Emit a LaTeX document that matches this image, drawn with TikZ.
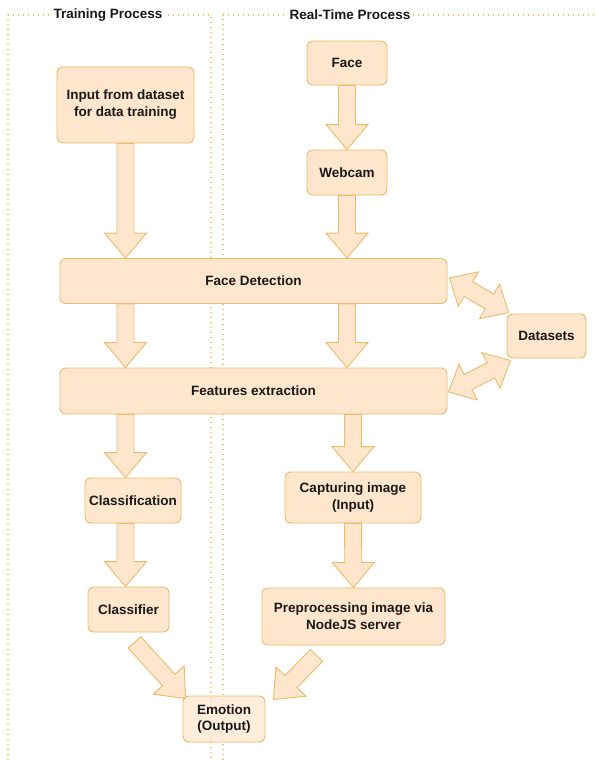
\documentclass[tikz,border=0pt]{standalone}
\usepackage{fontspec}
\setmainfont{Liberation Sans}
\usepackage{tikz}
\usetikzlibrary{calc}

\definecolor{boxfill}{HTML}{FFE6CC}
\definecolor{boxline}{HTML}{EBBA6A}
\definecolor{lanecol}{HTML}{F0C060}

\tikzset{
  box/.style={draw=boxline, fill=boxfill, rounded corners=6pt, line width=0.9pt, align=center,
    font=\bfseries\fontsize{13.5}{17}\selectfont, text=black!90, inner sep=0pt},
  fat/.style={draw=boxline, fill=boxfill, line width=0.9pt, line join=miter},
  lane/.style={draw=lanecol, line width=1.3pt, dash pattern=on 1.3pt off 3.7pt},
  lanetitle/.style={fill=white, font=\bfseries\fontsize{13.5}{15}\selectfont, text=black!90, inner sep=2pt}
}

% block arrow, one head
\newcommand{\fatarrow}[2]{%
  \draw[fat] let \p1=(#1), \p2=(#2), \n1={atan2(\y2-\y1,\x2-\x1)}, \n2={veclen(\x2-\x1,\y2-\y1)} in
    [shift={(\p1)}, rotate=\n1] (0pt,-8.5pt) -- ({\n2-25pt},-8.5pt) -- ({\n2-25pt},-21pt) -- ({\n2+0pt},0pt)
    -- ({\n2-25pt},21pt) -- ({\n2-25pt},8.5pt) -- (0pt,8.5pt) -- cycle;}
% block arrow, two heads
\newcommand{\fatdarrow}[2]{%
  \draw[fat] let \p1=(#1), \p2=(#2), \n1={atan2(\y2-\y1,\x2-\x1)}, \n2={veclen(\x2-\x1,\y2-\y1)} in
    [shift={(\p1)}, rotate=\n1] (0pt,0pt) -- (22pt,20pt) -- (22pt,8.5pt) -- ({\n2-22pt},8.5pt) -- ({\n2-22pt},20pt)
    -- ({\n2+0pt},0pt) -- ({\n2-22pt},-20pt) -- ({\n2-22pt},-8.5pt) -- (22pt,-8.5pt) -- (22pt,-20pt) -- cycle;}

\begin{document}
\begin{tikzpicture}[x=1pt,y=-1pt]
  \useasboundingbox (0,0) rectangle (595,760);

  % lanes
  \draw[lane] (8,760) -- (8,15) -- (211,15) -- (211,760);
  \draw[lane] (223,760) -- (223,15) -- (600,15);
  \node[lanetitle] (train) at (108,15) {Training Process};
  \node[lanetitle] (real) at (350,15) {Real-Time Process};

  % boxes
  \node[box, minimum width=137, minimum height=76] (inp) at (125.5,105) {Input from dataset\\for data training};
  \node[box, minimum width=80, minimum height=44] (face) at (347,63) {Face};
  \node[box, minimum width=80, minimum height=45] (web) at (347,172.5) {Webcam};
  \node[box, minimum width=387, minimum height=45] (fd) at (253.5,281) {Face Detection};
  \node[box, minimum width=79, minimum height=44] (ds) at (546.5,336) {Datasets};
  \node[box, minimum width=387, minimum height=46] (fe) at (253.5,391) {Features extraction};
  \node[box, minimum width=96, minimum height=45] (cls) at (133,500.5) {Classification};
  \node[box, minimum width=81, minimum height=45] (clf) at (128.5,609.5) {Classifier};
  \node[box, minimum width=136, minimum height=51] (cap) at (353,497.5) {Capturing image\\(Input)};
  \node[box, minimum width=183, minimum height=57] (pre) at (353.5,616.5) {Preprocessing image via\\NodeJS server};
  \node[box, fill opacity=.7, text opacity=1, minimum width=82, minimum height=46] (emo) at (224,719) {Emotion\\(Output)};

  % arrows
  \foreach \a/\b in {inp/fd, fd/fe, fe/cls, cls/clf}
    \fatarrow{inp.south |- \a.south}{inp.south |- \b.north};
  \foreach \a/\b in {face/web, web/fd, fd/fe}
    \fatarrow{web.south |- \a.south}{web.south |- \b.north};
  \fatarrow{fe.south -| cap.north}{cap.north};
  \fatarrow{cap.south}{pre.north};
  \fatarrow{$(clf.south)+(6,10)$}{$(emo.north west)+(3,3)$};
  \fatarrow{$(pre.south)+(-37,10)$}{$(emo.north east)+(8,4)$};
  \fatdarrow{$(fd.east)+(2,-3)$}{$(ds.north west)+(2,-1)$};
  \fatdarrow{$(fe.east)+(1,1)$}{$(ds.south west)+(4,2)$};
\end{tikzpicture}
\end{document}
